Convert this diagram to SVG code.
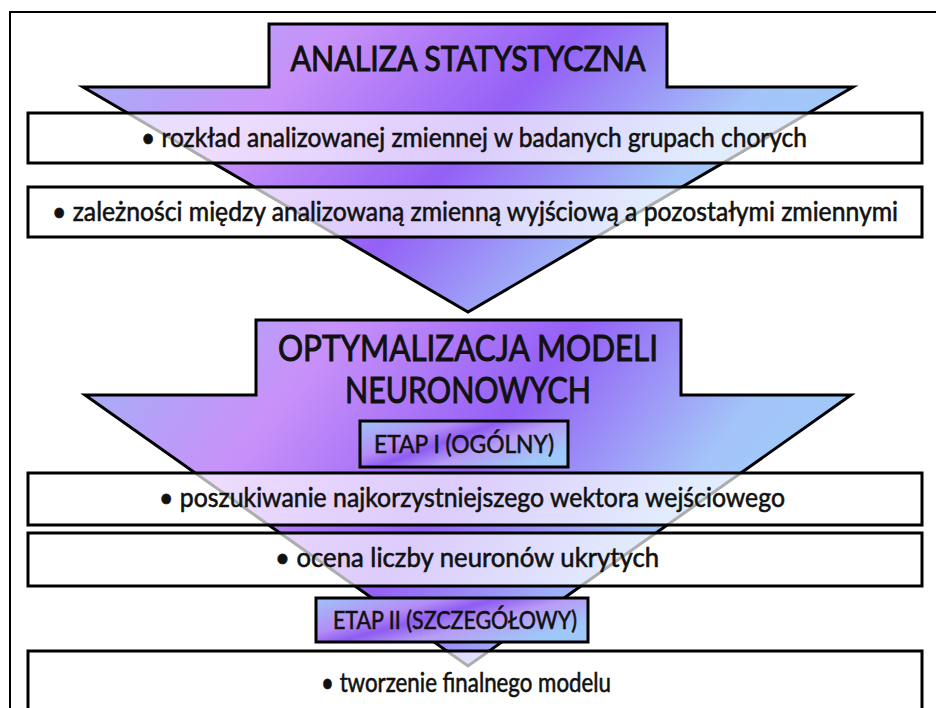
<svg xmlns="http://www.w3.org/2000/svg" width="936" height="708" viewBox="0 0 936 708">
  <defs>
    <linearGradient id="flow" x1="0" y1="0" x2="1" y2="0.35">
      <stop offset="0" stop-color="#9fb4f6"/>
      <stop offset="0.3" stop-color="#c891f9"/>
      <stop offset="0.58" stop-color="#9460f6"/>
      <stop offset="0.85" stop-color="#a3c4f8"/>
      <stop offset="1" stop-color="#9ecaf9"/>
    </linearGradient>
    <linearGradient id="tag" x1="0" y1="0" x2="1" y2="0.6">
      <stop offset="0" stop-color="#9fc4f8"/>
      <stop offset="0.35" stop-color="#b48cf6"/>
      <stop offset="0.5" stop-color="#8e5cf2"/>
      <stop offset="0.7" stop-color="#b79cf6"/>
      <stop offset="1" stop-color="#9ec8f8"/>
    </linearGradient>
    <style>
      .arrow { fill: url(#flow); stroke: #000; stroke-width: 3; stroke-linejoin: miter; }
      .box { fill: #fff; fill-opacity: 0.68; stroke: #000; stroke-width: 3; }
      .tag { fill: url(#tag); stroke: #000; stroke-width: 3; }
      .frame { fill: none; stroke: #000; stroke-width: 2; }
      text { font-family: Lato, "Open Sans", "Liberation Sans", sans-serif; fill: #111; text-anchor: middle;
             stroke: #111; stroke-width: 0.6; paint-order: stroke; }
      .title { font-size: 34px; stroke-width: 1; }
      .title2 { font-size: 36px; stroke-width: 1; }
      .item { font-size: 27px; }
      .label { font-size: 25px; }
    </style>
  </defs>

  <rect x="0" y="0" width="936" height="708" fill="#fff"/>
  <path class="frame" d="M10,720 V12 H940"/>

  <g id="connectors">
    <path id="arrow-analiza" class="arrow" d="M269,24 H667 V87 H853 L468,312 L83,87 H269 Z"/>
  </g>

  <g id="analiza-title">
    <text class="title" x="468" y="71" textLength="355" lengthAdjust="spacingAndGlyphs">ANALIZA STATYSTYCZNA</text>
  </g>

  <g id="item-rozklad">
    <rect class="box" x="28" y="113" width="894" height="50"/>
    <text class="item" x="474" y="147" textLength="666" lengthAdjust="spacingAndGlyphs">• rozkład analizowanej zmiennej w badanych grupach chorych</text>
  </g>

  <g id="item-zaleznosci">
    <rect class="box" x="28" y="187" width="894" height="50"/>
    <text class="item" x="475" y="221" textLength="846" lengthAdjust="spacingAndGlyphs">• zależności między analizowaną zmienną wyjściową a pozostałymi zmiennymi</text>
  </g>

  <g id="connectors-2">
    <path id="arrow-optymalizacja" class="arrow" d="M256,320 H681 V395 H851 L468,666 L85,395 H256 Z"/>
  </g>

  <g id="optymalizacja-title">
    <text class="title2" x="468" y="361" textLength="380" lengthAdjust="spacingAndGlyphs">OPTYMALIZACJA MODELI</text>
    <text class="title2" x="468" y="403" textLength="246" lengthAdjust="spacingAndGlyphs">NEURONOWYCH</text>
  </g>

  <g id="etap-1">
    <rect class="tag" x="360" y="421" width="208" height="46"/>
    <text class="label" x="464" y="453" textLength="180" lengthAdjust="spacingAndGlyphs">ETAP I (OGÓLNY)</text>
  </g>

  <g id="item-poszukiwanie">
    <rect class="box" x="28" y="473" width="894" height="52"/>
    <text class="item" x="472" y="507" textLength="626" lengthAdjust="spacingAndGlyphs">• poszukiwanie najkorzystniejszego wektora wejściowego</text>
  </g>

  <g id="item-ocena">
    <rect class="box" x="28" y="533" width="894" height="53"/>
    <text class="item" x="467" y="567" textLength="384" lengthAdjust="spacingAndGlyphs">• ocena liczby neuronów ukrytych</text>
  </g>

  <g id="etap-2">
    <rect class="tag" x="316" y="598" width="272" height="44"/>
    <text class="label" x="455" y="629" textLength="244" lengthAdjust="spacingAndGlyphs">ETAP II (SZCZEGÓŁOWY)</text>
  </g>

  <g id="item-tworzenie">
    <rect class="box" x="28" y="651" width="894" height="80"/>
    <text class="item" x="466" y="692" textLength="290" lengthAdjust="spacingAndGlyphs">• tworzenie finalnego modelu</text>
  </g>
</svg>
